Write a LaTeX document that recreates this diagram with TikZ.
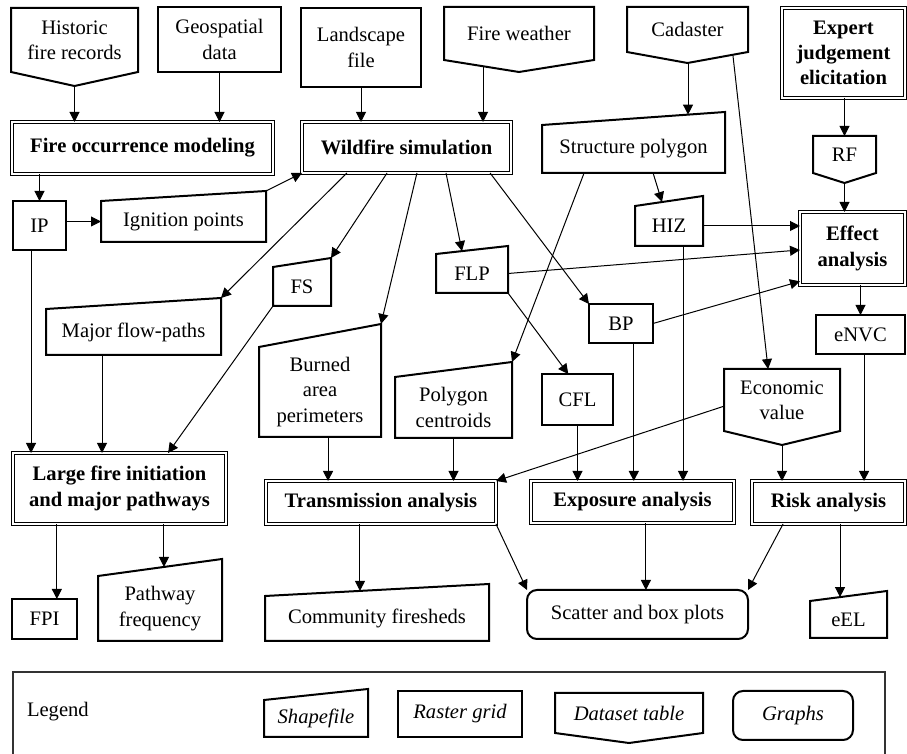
\documentclass[tikz,border=0pt]{standalone}
\usepackage{fontspec}
\setmainfont{Liberation Serif}
\usetikzlibrary{arrows.meta,calc}
\tikzset{
 txt/.style={font=\fontsize{10.3}{12.6}\selectfont},
 hidden/.style={txt, inner sep=0pt, outer sep=0pt, align=center},
 raster/.style={hidden, draw, line width=1pt},
 proc/.style={hidden, draw, double, line width=0.45pt, double distance=1.2pt, font=\fontsize{10.3}{12.6}\selectfont\bfseries},
 graphbox/.style={hidden, draw, line width=1pt, rounded corners=5pt},
 outl/.style={line width=1pt, line join=miter},
 conn/.style={line width=0.5pt, -{Triangle[length=5pt,width=5pt]}},
 legframe/.style={line width=0.6pt, black!80},
}
% generic box: style, name, x1, y1, x2, y2, text
\newcommand\bx[7]{%
 \node[#1, minimum width={(#5-#3)*0.5pt}, minimum height={(#6-#4)*0.5pt}] (#2) at ({(#3+#5)/2},{(#4+#6)/2}) {#7};}
% shapefile: name, x1, y1, x2, y2, rise, text
\newcommand\shpnode[7]{%
 \bx{hidden}{#1}{#2}{#3}{#4}{#5}{#7}
 \coordinate (#1-tr) at ($(#1.north east)+(0,-#6)$);
 \draw[outl] (#1.south west) -- (#1.south east) -- (#1-tr) -- (#1.north west) -- cycle;}
% dataset table: name, x1, y1, x2, y2, point depth, text
\newcommand\dsnode[7]{%
 \bx{hidden}{#1}{#2}{#3}{#4}{#5}{#7}
 \coordinate (#1-tip) at ($(#1.south)+(0,#6)$);
 \draw[outl] (#1.south west) -- (#1.north west) -- (#1.north east) -- (#1.south east) -- (#1-tip) -- cycle;}
\begin{document}
\begin{tikzpicture}[x=0.5pt,y=-0.5pt]
\useasboundingbox (0,0) rectangle (907,754);
% row 1
\dsnode{hfr}{11}{8}{138}{72}{14}{Historic\\fire records}
\bx{raster}{geo}{158}{7}{281}{72}{Geospatial\\data}
\bx{raster}{lsf}{301}{8}{421}{87}{Landscape\\file}
\dsnode{fwx}{444}{7}{594}{60}{12}{Fire weather}
\dsnode{cad}{627}{7}{748}{52}{11}{Cadaster}
\bx{proc}{exp}{782}{8}{905}{98}{Expert\\judgement\\elicitation}
% row 2
\bx{proc}{fom}{12}{122}{273}{174}{Fire occurrence modeling}
\bx{proc}{wfs}{302}{122}{511}{173}{Wildfire simulation}
\shpnode{stp}{542}{125}{725}{173}{13}{Structure polygon}
\dsnode{rf}{813}{136}{876}{173}{10}{RF}
% row 3
\bx{raster}{ip}{13}{201}{66}{250}{IP}
\shpnode{ign}{101}{201}{266}{242}{10}{Ignition points}
\shpnode{hiz}{635}{206}{703}{246}{10}{HIZ}
\bx{proc}{eff}{800}{212}{905}{285}{Effect\\analysis}
\shpnode{fs}{273}{267}{331}{306}{9}{FS}
\shpnode{flp}{436}{254}{508}{293}{8}{FLP}
\bx{raster}{bp}{589}{304}{653}{343}{BP}
\shpnode{mfp}{46}{309}{221}{355}{11}{Major flow-paths}
\bx{raster}{envc}{816}{315}{905}{354}{eNVC}
\shpnode{bap}{259}{347}{381}{437}{23}{Burned\\area\\perimeters}
\shpnode{pc}{395}{377}{512}{438}{15}{Polygon\\centroids}
\bx{raster}{cfl}{542}{374}{613}{425}{CFL}
\dsnode{eco}{724}{369}{840}{431}{14}{Economic\\value}
% row 4
\bx{proc}{lfi}{13}{453}{226}{524}{Large fire initiation\\and major pathways}
\bx{proc}{tra}{266}{481}{496}{524}{Transmission analysis}
\bx{proc}{expa}{531}{481}{734}{523}{Exposure analysis}
\bx{proc}{risk}{752}{481}{905}{524}{Risk analysis}
% row 5
\bx{raster}{fpi}{12}{599}{77}{639}{FPI}
\shpnode{pwf}{98}{576}{222}{641}{17}{Pathway\\frequency}
\shpnode{com}{265}{596}{489}{641}{12}{Community firesheds}
\bx{graphbox}{sbp}{527}{590}{748}{639}{Scatter and box plots}
\shpnode{eel}{810}{601}{887}{638}{10}{eEL}
% legend
\draw[legframe] (13,754) -- (13,672) -- (885,672) -- (885,754);
\node[hidden, anchor=west] (leg) at (27,712) {Legend};
\shpnode{lshp}{264}{700}{368}{737}{11}{\itshape Shapefile}
\bx{raster}{lras}{398}{691}{522}{737}{\itshape Raster grid}
\dsnode{lds}{555}{693}{703}{733}{10}{\itshape Dataset table}
\bx{graphbox}{lgr}{733}{691}{853}{740}{\itshape Graphs}
% helper coordinates
\coordinate (fwx-out) at ($(fwx.south west)!0.52!(fwx-tip)$);
\coordinate (stp-in) at ($(stp.north west)!0.798!(stp-tr)$);
\coordinate (cad-out) at ($(cad.south east)!0.25!(cad-tip)$);
\coordinate (eco-in) at ($(eco.north west)!0.38!(eco.north east)$);
\coordinate (wfs-o1) at ($(wfs.south west)!0.215!(wfs.south east)$);
\coordinate (wfs-o2) at ($(wfs.south west)!0.407!(wfs.south east)$);
\coordinate (wfs-o3) at ($(wfs.south west)!0.55!(wfs.south east)$);
\coordinate (wfs-o4) at ($(wfs.south west)!0.689!(wfs.south east)$);
\coordinate (wfs-o5) at ($(wfs.south west)!0.90!(wfs.south east)$);
\coordinate (flp-in) at ($(flp.north west)!0.361!(flp-tr)$);
\coordinate (stp-o1) at ($(stp.south west)!0.607!(stp.south east)$);
\coordinate (stp-o2) at ($(stp.south west)!0.23!(stp.south east)$);
\coordinate (hiz-in) at ($(hiz.north west)!0.397!(hiz-tr)$);
\coordinate (eff-i1) at ($(eff.north west)!0.52!(eff.south west)$);
\coordinate (eff-i2) at ($(eff.north west)!0.95!(eff.south west)$);
\coordinate (cfl-in) at ($(cfl.north west)!0.37!(cfl.north east)$);
\coordinate (lfi-in) at ($(lfi.north west)!0.728!(lfi.north east)$);
\coordinate (ip-out) at ($(ip.south west)!0.34!(ip.south east)$);
\coordinate (mfp-out) at ($(mfp.south west)!0.32!(mfp.south east)$);
\coordinate (bap-out) at ($(bap.south west)!0.566!(bap.south east)$);
\coordinate (eco-out) at ($(eco.north west)!0.6!(eco.south west)$);
\coordinate (bp-out) at ($(bp.south west)!0.70!(bp.south east)$);
\coordinate (hiz-out) at ($(hiz.south west)!0.706!(hiz.south east)$);
\coordinate (envc-out) at ($(envc.south west)!0.54!(envc.south east)$);
\coordinate (fpi-in) at ($(fpi.north west)!0.69!(fpi.north east)$);
\coordinate (pwf-in) at ($(pwf.north west)!0.532!(pwf-tr)$);
\coordinate (com-in) at ($(com.north west)!0.424!(com-tr)$);
\coordinate (expa-out) at ($(expa.south west)!0.566!(expa.south east)$);
\coordinate (risk-out) at ($(risk.south west)!0.203!(risk.south east)$);
\coordinate (eel-in) at ($(eel.north west)!0.39!(eel-tr)$);
% connectors
\draw[conn] (hfr-tip) -- (hfr-tip |- fom.north);
\draw[conn] (geo.south) -- (geo.south |- fom.north);
\draw[conn] (lsf.south) -- (lsf.south |- wfs.north);
\draw[conn] (fwx-out) -- (fwx-out |- wfs.north);
\draw[conn] (stp-in |- cad-tip) -- (stp-in);
\draw[conn] (cad-out) -- (eco-in);
\draw[conn] (rf.north |- exp.south) -- (rf.north);
\draw[conn] (rf-tip) -- (rf-tip |- eff.north);
\draw[conn] (ip.north |- fom.south) -- (ip.north);
\draw[conn] (ign.west -| ip.east) -- (ign.west);
\draw[conn] (ign-tr) -- (wfs.south west);
\draw[conn] (wfs-o1) -- (mfp-tr);
\draw[conn] (wfs-o2) -- (fs-tr);
\draw[conn] (wfs-o3) -- (bap-tr);
\draw[conn] (wfs-o4) -- (flp-in);
\draw[conn] (wfs-o5) -- (bp.north west);
\draw[conn] (stp-o1) -- (hiz-in);
\draw[conn] (stp-o2) -- (pc-tr);
\draw[conn] (hiz.east) -- (hiz.east -| eff.west);
\draw[conn] (flp.east) -- (eff-i1);
\draw[conn] (bp.east) -- (eff-i2);
\draw[conn] (envc.north |- eff.south) -- (envc.north);
\draw[conn] (flp.south east) -- (cfl-in);
\draw[conn] (fs.south west) -- (lfi-in);
\draw[conn] (ip-out) -- (ip-out |- lfi.north);
\draw[conn] (mfp-out) -- (mfp-out |- lfi.north);
\draw[conn] (bap-out) -- (bap-out |- tra.north);
\draw[conn] (pc.south) -- (pc.south |- tra.north);
\draw[conn] (eco-out) -- (tra.north east);
\draw[conn] (cfl.south) -- (cfl.south |- expa.north);
\draw[conn] (bp-out) -- (bp-out |- expa.north);
\draw[conn] (hiz-out) -- (hiz-out |- expa.north);
\draw[conn] (eco-tip) -- (eco-tip |- risk.north);
\draw[conn] (envc-out) -- (envc-out |- risk.north);
\draw[conn] (fpi-in |- lfi.south) -- (fpi-in);
\draw[conn] (pwf-in |- lfi.south) -- (pwf-in);
\draw[conn] (com-in |- tra.south) -- (com-in);
\draw[conn] (tra.south east) -- (sbp.north west);
\draw[conn] (expa-out) -- (expa-out |- sbp.north);
\draw[conn] (risk-out) -- (sbp.north east);
\draw[conn] (eel-in |- risk.south) -- (eel-in);
\end{tikzpicture}
\end{document}
